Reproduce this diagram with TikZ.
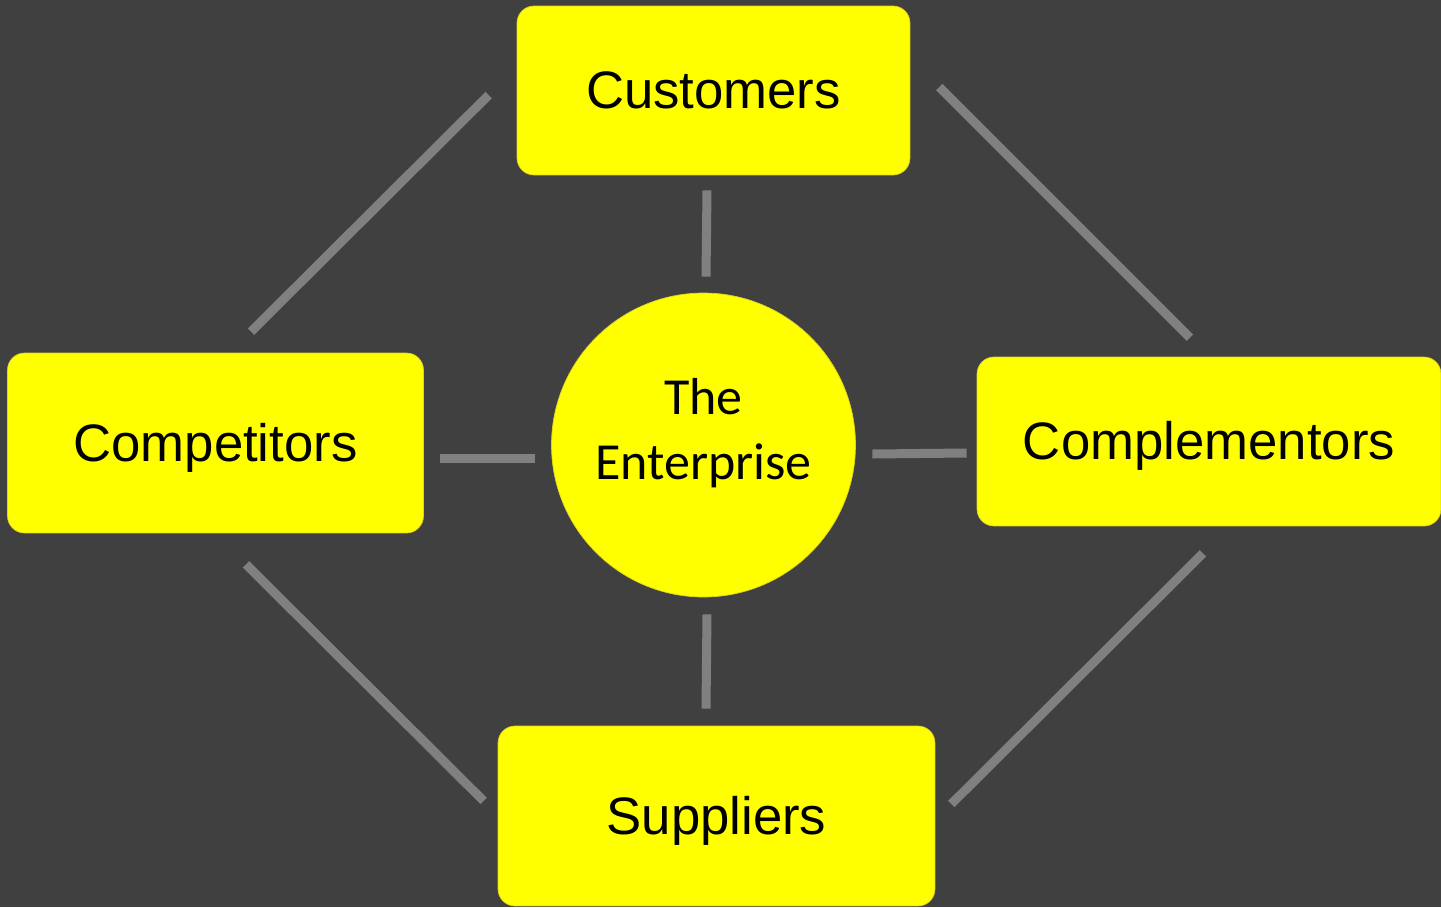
\documentclass[tikz,border=0pt]{standalone}
\usepackage{fontspec}
\setmainfont{Liberation Sans}
\newfontfamily\entfont{Carlito}
\usetikzlibrary{calc}
\definecolor{bgdark}{HTML}{404040}
\definecolor{boxyellow}{HTML}{FFFF00}
\definecolor{linkgray}{HTML}{808080}

\begin{document}
\begin{tikzpicture}[x = 0.02cm, y = -0.02cm,
    party/.style = {draw = yellow!85!black, line width = 0.4pt, fill = boxyellow,
      rounded corners = 0.34cm, inner sep = 0pt, text height = 27pt, text depth = 6.3pt,
      font = \fontsize{30}{36}\selectfont},
    firm/.style = {circle, draw = yellow!85!black, line width = 0.4pt, fill = boxyellow,
      inner sep = 0pt, minimum size = 6.08cm, align = center,
      font = \entfont\fontsize{29.6}{37}\selectfont},
    link/.style = {draw = linkgray, line width = 0.18cm}]

    \fill[bgdark] (0, 0) rectangle (1441, 907);
    \useasboundingbox (0, 0) rectangle (1441, 907);

    \node[party, minimum width = 7.86cm, minimum height = 3.38cm] (cust) at (713.5, 90.5) {Customers};
    \node[party, minimum width = 8.32cm, minimum height = 3.6cm] (comp) at (215.5, 443) {Competitors};
    \node[party, minimum width = 9.28cm, minimum height = 3.38cm] (compl) at (1209, 441.5) {Complementors};
    \node[party, minimum width = 8.74cm, minimum height = 3.6cm] (supp) at (716.5, 816) {Suppliers};
    \node[firm] (ent) at (703.5, 445) {The\\Enterprise\rule[-0.6em]{0pt}{0pt}};

    \draw[link] ($(cust.south) + (-6.5, 15)$) -- ($(ent.north) + (2.5, -16)$);
    \draw[link] ($(ent.south) + (3.5, 17)$) -- ($(supp.north) + (-10.5, -17)$);
    \draw[link] ($(comp.east) + (16, 15)$) -- ($(ent.west) + (-16, 13)$);
    \draw[link] ($(ent.east) + (16.5, 9)$) -- ($(compl.west) + (-10, 11.5)$);

    \draw[link] ($(cust.west) + (-28, 4.5)$) -- ($(comp.north) + (35.5, -21)$);
    \draw[link] ($(cust.east) + (29, -3.5)$) -- ($(compl.north) + (-19, -19)$);
    \draw[link] ($(comp.south) + (30.5, 31)$) -- ($(supp.west) + (-14, -15)$);
    \draw[link] ($(compl.south) + (-6, 27)$) -- ($(supp.east) + (16, -12)$);

  \end{tikzpicture}
\end{document}
